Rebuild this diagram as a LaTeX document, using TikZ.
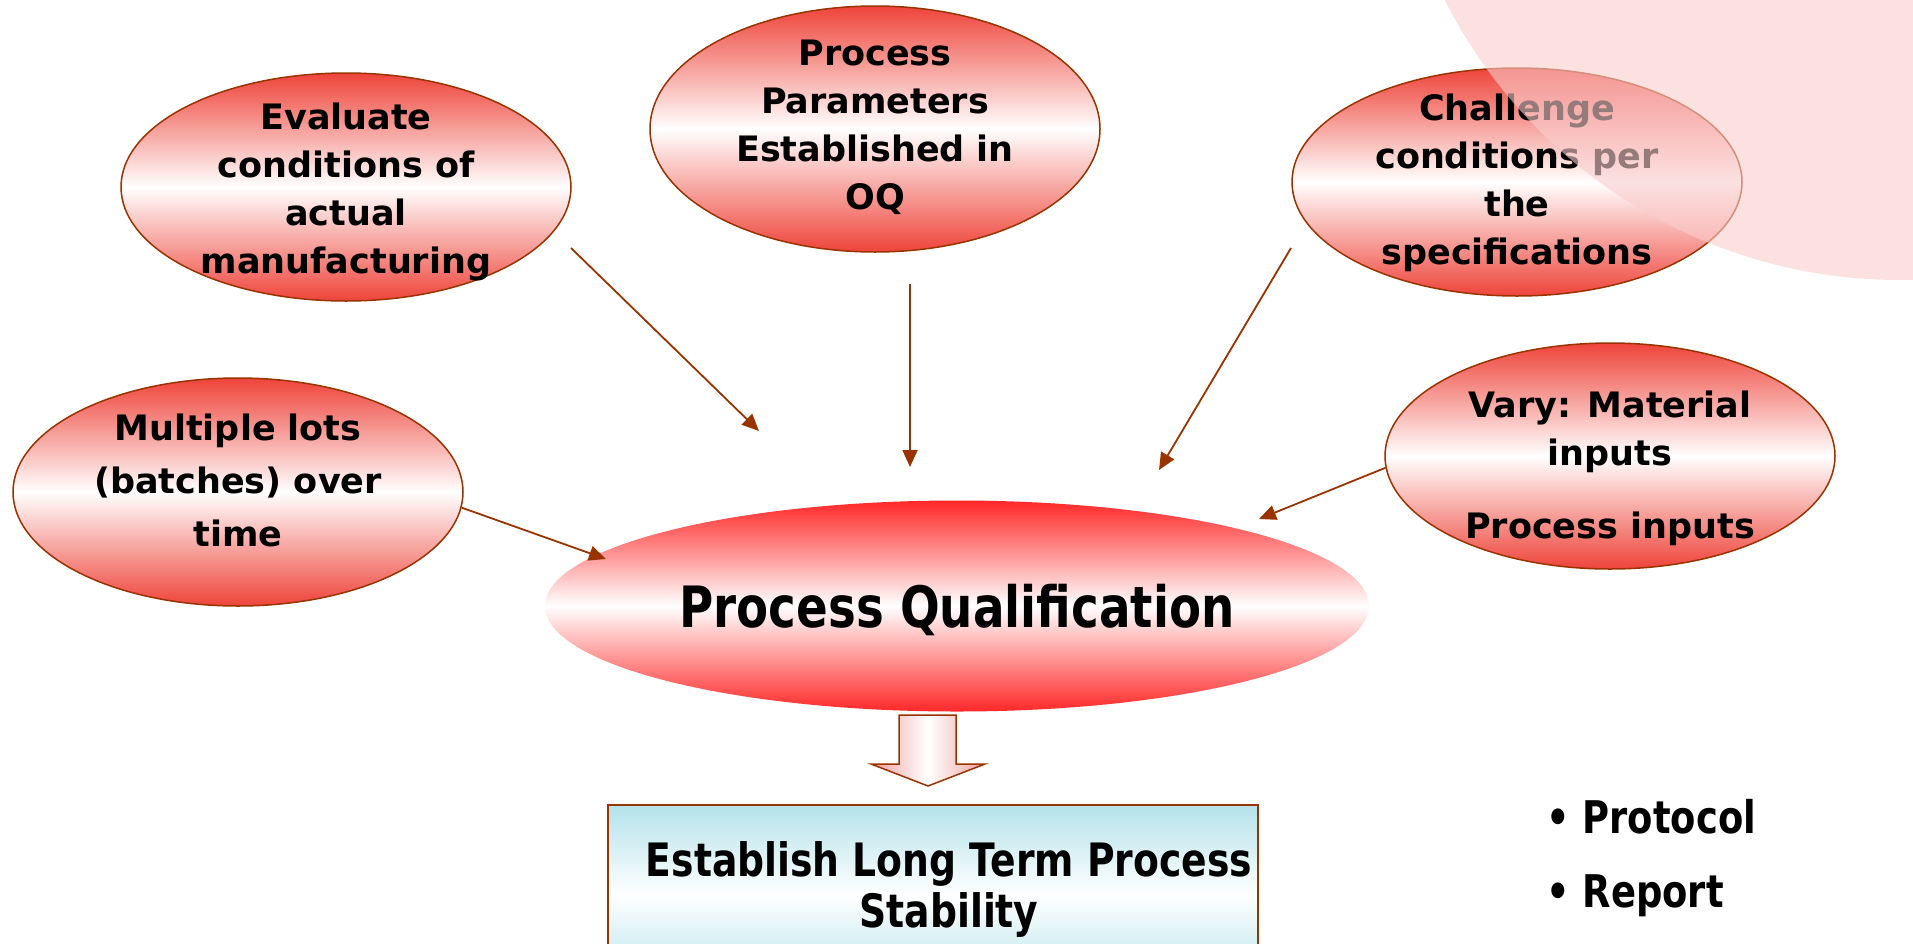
\documentclass[tikz,border=0pt]{standalone}
\usepackage{fontspec}
\newfontfamily\pqfont{DejaVu Sans}[FakeStretch=0.82]
\newfontfamily\ideafont{DejaVu Sans}
\usetikzlibrary{arrows.meta,shapes.geometric}

\definecolor{rim}{RGB}{153,51,0}
\definecolor{ideared}{RGB}{238,68,58}
\definecolor{pqred}{RGB}{255,40,40}
\definecolor{goalcyan}{RGB}{180,226,234}
\definecolor{flowpink}{RGB}{240,160,160}
\definecolor{blush}{RGB}{250,205,205}

\tikzset{
  idea/.style = {ellipse, draw=rim, line width=1.5pt,
    top color=ideared, bottom color=ideared, middle color=white,
    inner sep=0pt, minimum width=450pt, minimum height=228pt},
  ideatext/.style = {align=center, inner sep=0pt,
    font=\ideafont\bfseries\fontsize{35}{48}\selectfont},
  feed/.style = {draw=rim, line width=1.8pt, -{Triangle[length=17pt,width=15pt]}},
}

\begin{document}
\begin{tikzpicture}[x=1pt, y=-1pt]
\useasboundingbox (0,0) rectangle (1913,943);

% inputs to PQ
\node[idea] (eval) at (346,187) {};
\node[idea, minimum height=246pt] (params) at (875,129) {};
\node[idea] (chall) at (1517,182) {};
\node[idea] (lots) at (238,492) {};
\node[idea, minimum height=226pt] (vary) at (1610,456) {};

\node[ideatext] (evaltext) at ([yshift=-5pt]eval.center) {Evaluate\\conditions of\\actual\\manufacturing};
\node[ideatext] (paramstext) at ([yshift=2pt]params.center) {Process\\Parameters\\Established in\\OQ};
\node[ideatext] (challtext) at ([yshift=-1pt]chall.center) {Challenge\\conditions per\\the\\specifications};
\node[ideatext, font=\ideafont\bfseries\fontsize{35}{53}\selectfont] (lotstext) at ([yshift=12pt]lots.center) {Multiple lots\\(batches) over\\time};
\node[ideatext] (varytext) at ([yshift=-12pt]vary.center) {Vary: Material\\inputs\\[25pt]Process inputs};

% the qualification itself
\node[ellipse, top color=pqred, bottom color=pqred, middle color=white,
  minimum width=824pt, minimum height=211pt, inner sep=0pt, text depth=0pt,
  font=\pqfont\bfseries\fontsize{57}{60}\selectfont] (pq) at (957,606) {Process Qualification};

\coordinate (evalout) at (571,248);
\coordinate (evalin) at (759,431);
\coordinate (paramsout) at (910,284);
\coordinate (paramsin) at (910,467);
\coordinate (challout) at (1291,248);
\coordinate (challin) at (1159,470);
\coordinate (lotsin) at (606,559);
\coordinate (varyin) at (1259,519);

\draw[feed] (evalout) -- (evalin);
\draw[feed] (paramsout) -- (paramsin);
\draw[feed] (challout) -- (challin);
\draw[feed] (lots.-4) -- (lotsin);
\draw[feed] (vary.183) -- (varyin);

% result
\node[draw=rim, line width=1.5pt, top color=goalcyan, bottom color=goalcyan, middle color=white,
  minimum width=650pt, minimum height=180pt] (goal) at (933,895) {};
\node[align=center, inner sep=0pt, font=\pqfont\bfseries\fontsize{46}{51}\selectfont]
  (goaltext) at (949,889) {Establish Long Term Process\\Stability};

\draw[rim, line width=1.5pt, left color=flowpink, right color=flowpink, middle color=white]
  (899,715) -- (956,715) -- (956,764) -- (985,764) -- (928,786) -- (871,764) -- (899,764) -- cycle;

\node[anchor=west, align=left, inner sep=0pt,
  font=\pqfont\bfseries\fontsize{45}{74}\selectfont] (docs) at (1546,858) {\textbullet\ Protocol\\\textbullet\ Report};

% corner decoration
\fill[blush, opacity=0.6] (1900,-230) circle[radius=510pt];
\end{tikzpicture}
\end{document}
